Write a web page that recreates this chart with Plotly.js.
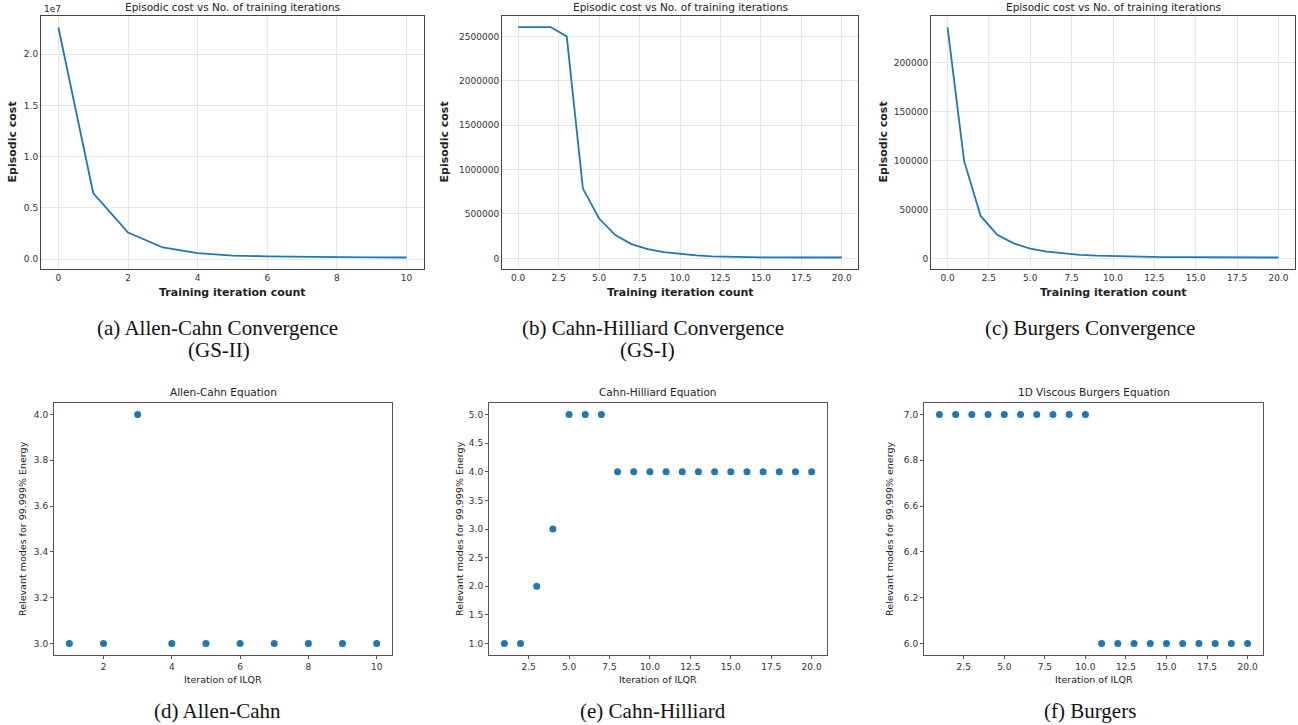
<!DOCTYPE html>
<html><head><meta charset="utf-8">
<script src="https://cdn.plot.ly/plotly-3.0.1.min.js"></script>
<style>html,body{margin:0;padding:0;background:#fff}#chart{width:1298px;height:725px}</style>
</head><body><div id="chart"></div>
<script>
// ---------- data ----------
const acIter = [0,1,2,3,4,5,6,7,8,9,10];
const acCost = [22600000,6450000,2600000,1140000,580000,350000,280000,220000,200000,180000,160000];

const chIter = [0,1,2,3,4,5,6,7,8,9,10,11,12,13,14,15,16,17,18,19,20];
const chCost = [2605000,2605000,2605000,2500000,786000,449000,262000,161000,104000,70000,48000,33000,22000,17000,14000,12000,11000,10000,10000,10000,10000];

const bgIter = [0,1,2,3,4,5,6,7,8,9,10,11,12,13,14,15,16,17,18,19,20];
const bgCost = [236000,100000,43900,24600,15900,10500,7500,5500,4200,3400,2900,2500,2200,2000,1900,1800,1700,1600,1600,1500,1500];

const acIlqr = [1,2,3,4,5,6,7,8,9,10];
const acModes = [3,3,4,3,3,3,3,3,3,3];

const chIlqr = [1,2,3,4,5,6,7,8,9,10,11,12,13,14,15,16,17,18,19,20];
const chModes = [1,1,2,3,5,5,5,4,4,4,4,4,4,4,4,4,4,4,4,4];

const bgIlqr = [1,2,3,4,5,6,7,8,9,10,11,12,13,14,15,16,17,18,19,20];
const bgModes = [7,7,7,7,7,7,7,7,7,7,6,6,6,6,6,6,6,6,6,6];

const acCostTickVals = [0,5000000,10000000,15000000,20000000];
const acCostTickText = ["0.0","0.5","1.0","1.5","2.0"];

const topTitle = "Episodic cost vs No. of training iterations";
const bottomTitles = ["Allen-Cahn Equation","Cahn-Hilliard Equation","1D Viscous Burgers Equation"];
const captionsTop = ["(a) Allen-Cahn Convergence","(b) Cahn-Hilliard Convergence","(c) Burgers Convergence"];
const captionsTop2 = ["(GS-II)","(GS-I)",""];
const captionsBottom = ["(d) Allen-Cahn","(e) Cahn-Hilliard","(f) Burgers"];

// ---------- layout helpers ----------
const W = 1298, H = 725;
const px = x => x / W;
const py = y => 1 - y / H;
const blue = "#1f77b4";
const font = "DejaVu Sans, sans-serif";
const serif = "Liberation Serif, Times New Roman, serif";

// pixel boxes [left, right, top, bottom]
const boxes = {
  tl: [41, 424, 16, 269], tm: [502, 858, 16, 269], tr: [931, 1295, 16, 269],
  bl: [54, 392, 403, 655], bm: [489, 827, 403, 655], br: [924, 1263, 403, 655]
};

function topAxes(n, b, xr, yr, xextra, yextra) {
  const s = n === 1 ? "" : String(n);
  const x = Object.assign({
    anchor: "y" + s,
    domain: [px(b[0]), px(b[1])], range: xr, showline: true, mirror: true,
    linecolor: "#444", linewidth: 1, showgrid: true, gridcolor: "#e6e6e6", gridwidth: 1,
    zeroline: false, ticks: "", tickfont: {family: font, size: 9, color: "#333"}
  }, xextra);
  const y = Object.assign({
    anchor: "x" + s,
    domain: [py(b[3]), py(b[2])], range: yr, showline: true, mirror: true,
    linecolor: "#444", linewidth: 1, showgrid: true, gridcolor: "#e6e6e6", gridwidth: 1,
    zeroline: false, ticks: "", tickfont: {family: font, size: 9, color: "#333"}
  }, yextra);
  return [x, y];
}
function botAxes(n, b, xr, yr, xextra, yextra) {
  const s = String(n);
  const x = Object.assign({
    anchor: "y" + s,
    domain: [px(b[0]), px(b[1])], range: xr, showline: true, mirror: true,
    linecolor: "#555", linewidth: 1, showgrid: false, zeroline: false,
    ticks: "outside", ticklen: 3, tickcolor: "#555",
    tickfont: {family: font, size: 9, color: "#333"}
  }, xextra);
  const y = Object.assign({
    anchor: "x" + s,
    domain: [py(b[3]), py(b[2])], range: yr, showline: true, mirror: true,
    linecolor: "#555", linewidth: 1, showgrid: false, zeroline: false,
    ticks: "outside", ticklen: 3, tickcolor: "#555",
    tickfont: {family: font, size: 9, color: "#333"}
  }, yextra);
  return [x, y];
}

const [x1, y1] = topAxes(1, boxes.tl, [-0.5, 10.5], [-960000, 23720000],
  {tickvals: [0,2,4,6,8,10]}, {tickvals: acCostTickVals, ticktext: acCostTickText});
const [x2, y2] = topAxes(2, boxes.tm, [-1, 21], [-119500, 2729500],
  {tickvals: [0,2.5,5,7.5,10,12.5,15,17.5,20], tickformat: ".1f"}, {tickvals: [0,500000,1000000,1500000,2000000,2500000], tickformat: "d"});
const [x3, y3] = topAxes(3, boxes.tr, [-1, 21], [-10200, 247700],
  {tickvals: [0,2.5,5,7.5,10,12.5,15,17.5,20], tickformat: ".1f"}, {tickvals: [0,50000,100000,150000,200000], tickformat: "d"});
const [x4, y4] = botAxes(4, boxes.bl, [0.55, 10.45], [2.95, 4.05],
  {tickvals: [2,4,6,8,10]}, {tickvals: [3,3.2,3.4,3.6,3.8,4], tickformat: ".1f"});
const [x5, y5] = botAxes(5, boxes.bm, [0.05, 20.95], [0.8, 5.2],
  {tickvals: [2.5,5,7.5,10,12.5,15,17.5,20], tickformat: ".1f"}, {tickvals: [1,1.5,2,2.5,3,3.5,4,4.5,5], tickformat: ".1f"});
const [x6, y6] = botAxes(6, boxes.br, [0.05, 20.95], [5.95, 7.05],
  {tickvals: [2.5,5,7.5,10,12.5,15,17.5,20], tickformat: ".1f"}, {tickvals: [6,6.2,6.4,6.6,6.8,7], tickformat: ".1f"});

const lineStyle = {color: blue, width: 1.8};
const markerStyle = {color: blue, size: 7};
const data = [
  {x: acIter, y: acCost, mode: "lines", line: lineStyle, xaxis: "x", yaxis: "y"},
  {x: chIter, y: chCost, mode: "lines", line: lineStyle, xaxis: "x2", yaxis: "y2"},
  {x: bgIter, y: bgCost, mode: "lines", line: lineStyle, xaxis: "x3", yaxis: "y3"},
  {x: acIlqr, y: acModes, mode: "markers", marker: markerStyle, xaxis: "x4", yaxis: "y4"},
  {x: chIlqr, y: chModes, mode: "markers", marker: markerStyle, xaxis: "x5", yaxis: "y5"},
  {x: bgIlqr, y: bgModes, mode: "markers", marker: markerStyle, xaxis: "x6", yaxis: "y6"}
];

const ann = [];
function txt(text, x, y, size, opts) {
  ann.push(Object.assign({text: text, x: px(x), y: py(y), xref: "paper", yref: "paper",
    showarrow: false, xanchor: "center", yanchor: "middle",
    font: {family: font, size: size, color: "#222"}}, opts || {}));
}
const topKeys = ["tl","tm","tr"], botKeys = ["bl","bm","br"];
const topYLabelX = [12, 444, 883];
const botYLabelX = [22, 459, 889];
const capCenters = [217, 653, 1090];
const capCenters2 = [219, 647, 1090];
topKeys.forEach((k, i) => {
  const b = boxes[k];
  const cx = (b[0] + b[1]) / 2;
  txt(topTitle, cx, 7, 10.5);
  txt("<b>Training iteration count</b>", cx, 292, 11);
  txt("<b>Episodic cost</b>", topYLabelX[i], (b[2] + b[3]) / 2, 11, {textangle: -90});
});
txt("1e7", 53, 9, 9);
botKeys.forEach((k, i) => {
  const b = boxes[k];
  const cx = (b[0] + b[1]) / 2;
  txt(bottomTitles[i], cx, 392, 10.5);
  txt("Iteration of ILQR", cx, 679, 9.5);
  txt(i === 2 ? "Relevant modes for 99.999% energy" : "Relevant modes for 99.999% Energy",
      botYLabelX[i], (b[2] + b[3]) / 2, 9.5, {textangle: -90});
});
const capFont = {family: serif, size: 21, color: "#111"};
captionsTop.forEach((c, i) => txt(c, capCenters[i], 328, 21, {font: capFont}));
captionsTop2.forEach((c, i) => { if (c) txt(c, capCenters2[i], 350, 21, {font: capFont}); });
captionsBottom.forEach((c, i) => txt(c, capCenters[i], 711, 21, {font: capFont}));

const layout = {
  width: W, height: H, margin: {l: 0, r: 0, t: 0, b: 0},
  paper_bgcolor: "#fff", plot_bgcolor: "#fff", showlegend: false,
  xaxis: x1, yaxis: y1, xaxis2: x2, yaxis2: y2, xaxis3: x3, yaxis3: y3,
  xaxis4: x4, yaxis4: y4, xaxis5: x5, yaxis5: y5, xaxis6: x6, yaxis6: y6,
  annotations: ann
};
Plotly.newPlot("chart", data, layout, {staticPlot: true, displayModeBar: false});
</script></body></html>
